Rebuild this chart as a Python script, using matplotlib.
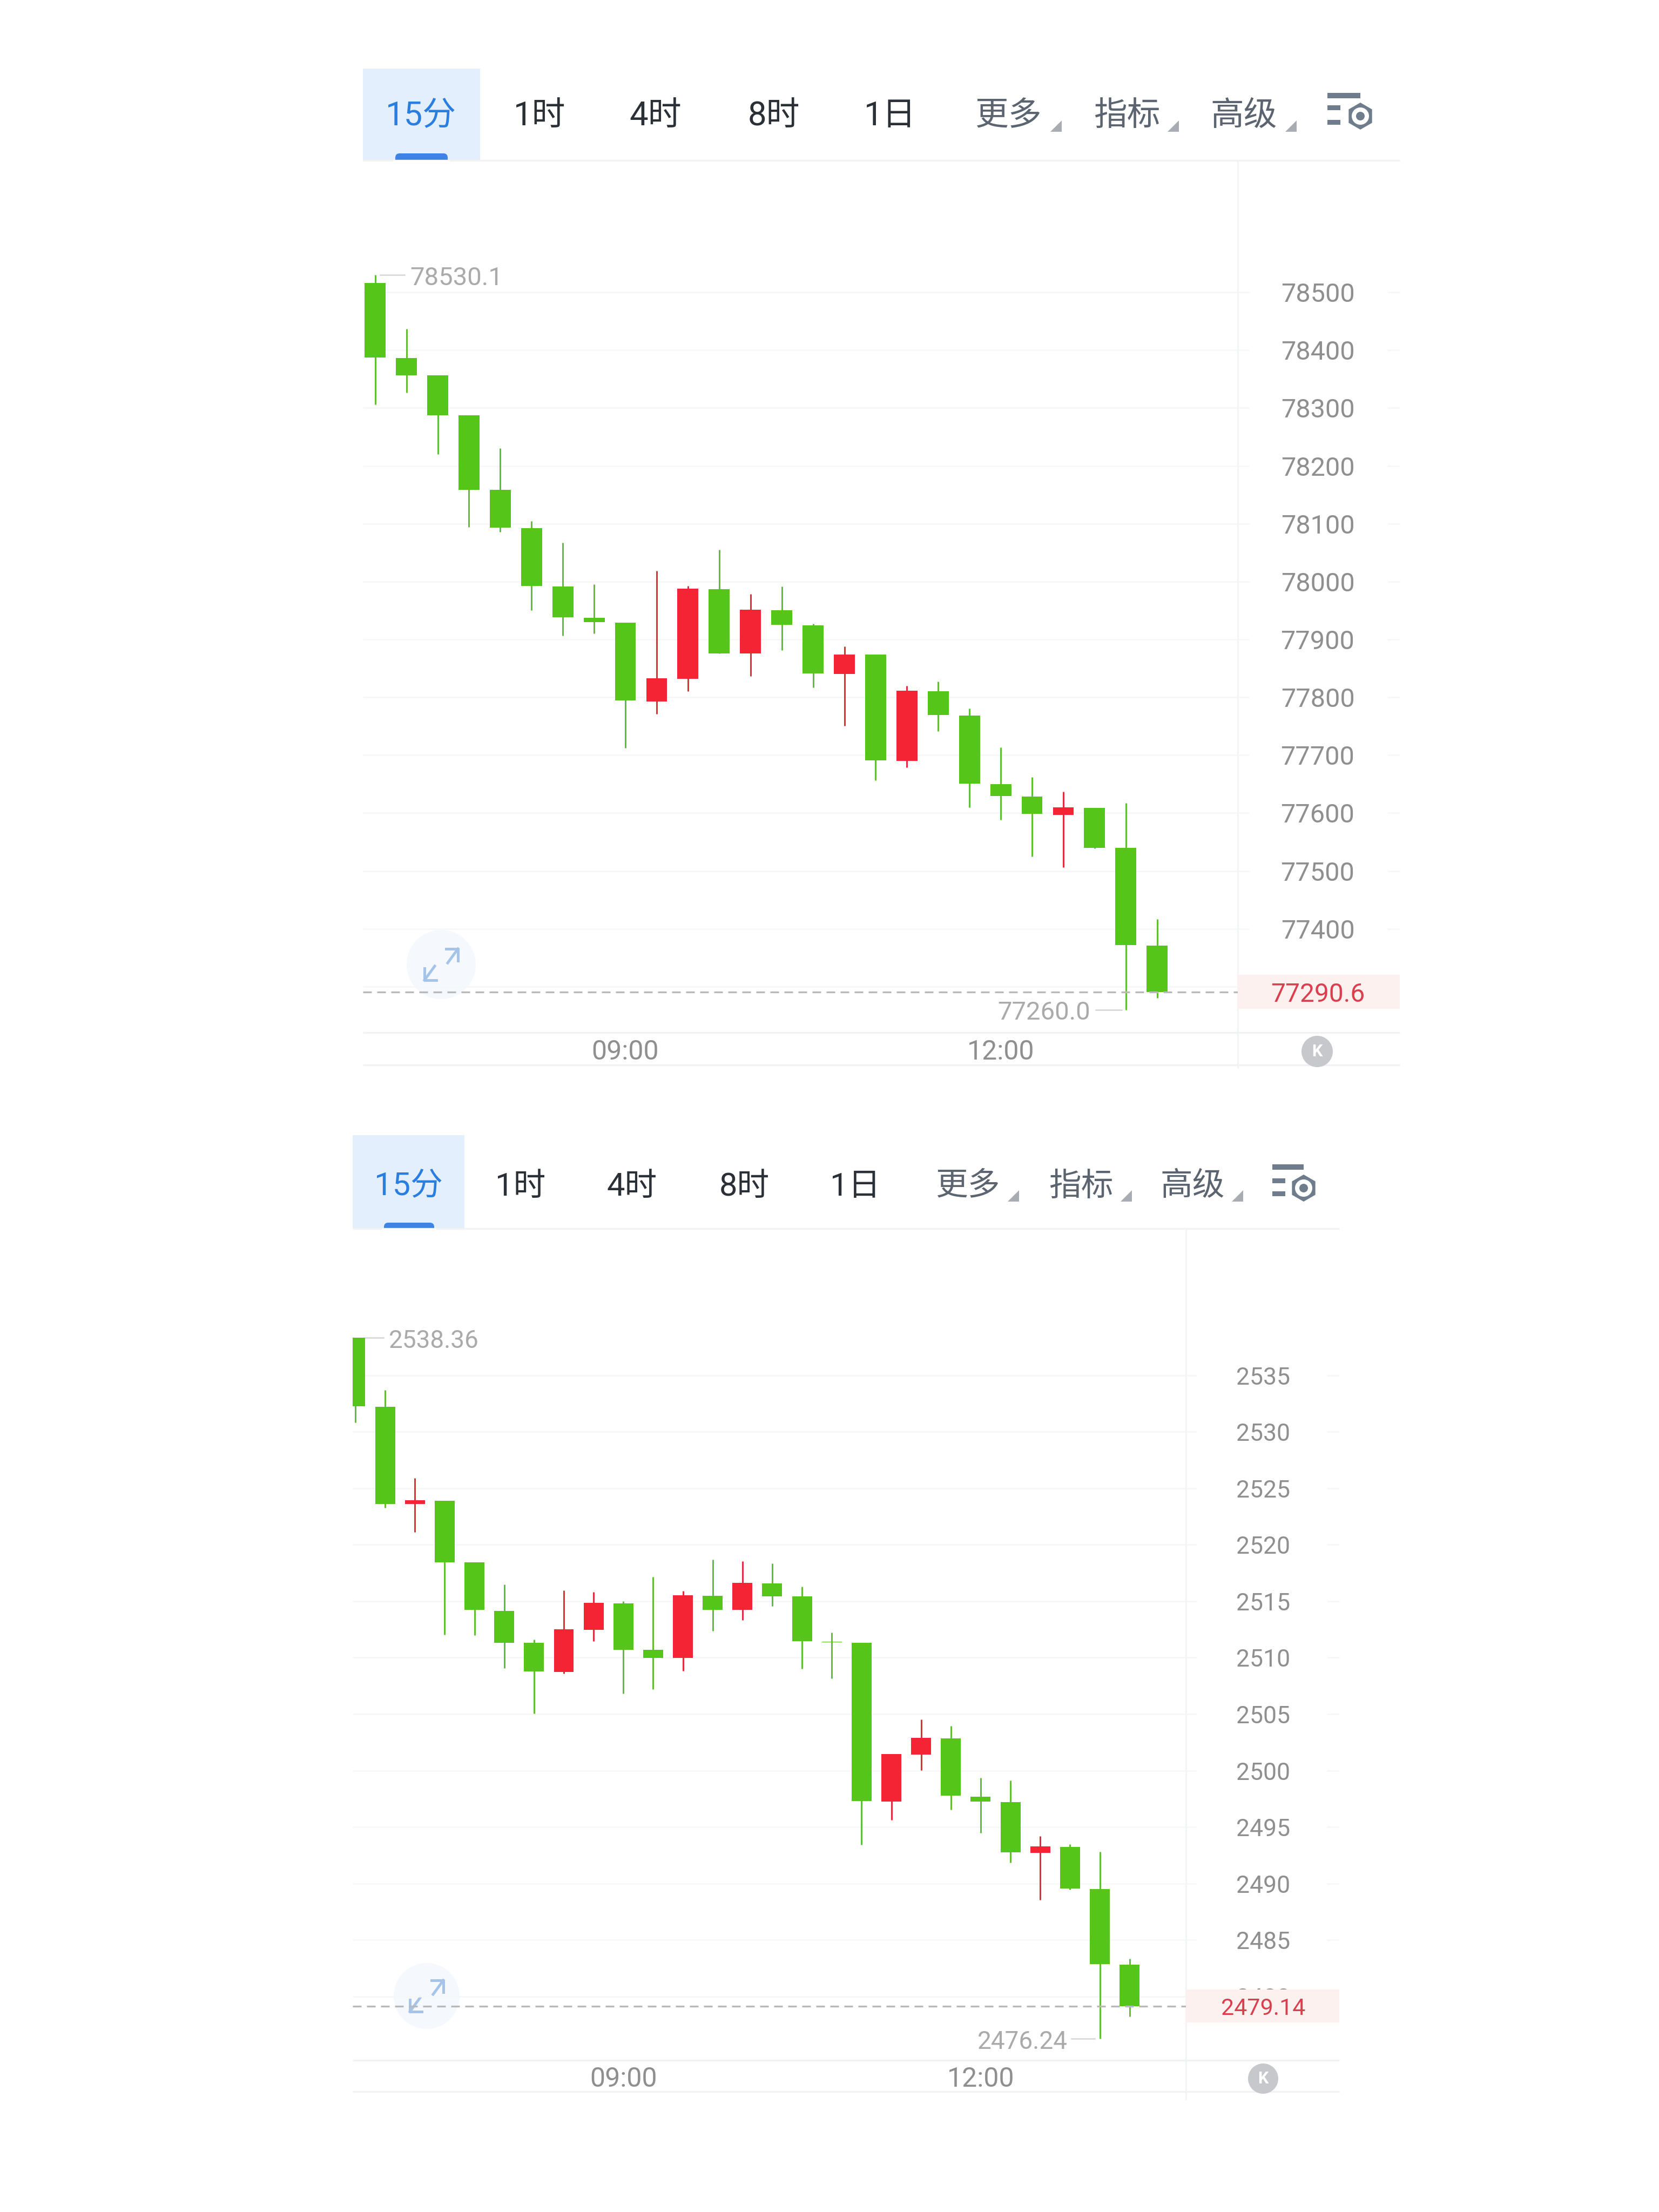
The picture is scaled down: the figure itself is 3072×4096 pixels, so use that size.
# two 15 minute candlestick screenshots, stacked on one page

import matplotlib
matplotlib.use('Agg')
import matplotlib.pyplot as plt
from matplotlib.patches import Circle, FancyBboxPatch, Polygon, Rectangle, RegularPolygon

FONT = ['Roboto', 'Noto Sans CJK SC', 'DejaVu Sans']
plt.rcParams['font.family'] = FONT

# first chart
btc_open = [78515.7, 78386.7, 78356.7, 78287.1, 78158.6, 78092.4, 77991.9, 77937.1, 77928.6, 77793, 77832, 77987, 77876,
            77950, 77924, 77840, 77874, 77690, 77810, 77768, 77650, 77628, 77597, 77609, 77540, 77371]
btc_close = [78387.1, 78356.7, 78287.6, 78159, 78092.8, 77992.4, 77938.1, 77929.5, 77795, 77833, 77988, 77876, 77951,
             77925, 77841, 77874, 77691, 77811, 77769, 77651, 77629, 77599, 77610, 77540, 77372, 77290.6]
btc_high = [78530.1, 78436.7, 78356.7, 78287.1, 78230.5, 78104.8, 78066.7, 77995.2, 77928.6, 78019, 77992, 78055, 77978,
            77991.7, 77927, 77888, 77874, 77820, 77827, 77781, 77713, 77662, 77637, 77609, 77617, 77417]
btc_low = [78305.7, 78326.7, 78220, 78093.8, 78085.7, 77950.5, 77906.7, 77910.5, 77712, 77771, 77810, 77876, 77837,
           77881, 77817, 77751, 77656, 77679, 77741, 77610, 77588, 77525, 77506, 77539, 77260.0, 77280]
btc_ticks = [78500, 78400, 78300, 78200, 78100, 78000, 77900, 77800, 77700, 77600, 77500, 77400, 77300]
btc_hidden = [77300]  # this label sits fully behind the price tag

# second chart
eth_open = [2538.36, 2532.2, 2523.6, 2523.88, 2518.42, 2514.16, 2511.3, 2508.72, 2512.48, 2514.82, 2510.67, 2509.96, 2515.48,
            2514.21, 2516.58, 2515.41, 2511.42, 2511.32, 2497.23, 2501.41, 2502.84, 2497.7, 2497.21, 2492.7, 2493.25, 2489.52, 2482.82]
eth_close = [2532.25, 2523.63, 2523.93, 2518.44, 2514.21, 2511.33, 2508.78, 2512.51, 2514.87, 2510.7, 2509.99, 2515.5, 2514.24,
             2516.6, 2515.45, 2511.46, 2511.34, 2497.29, 2501.46, 2502.89, 2497.76, 2497.26, 2492.76, 2493.28, 2489.57, 2482.87, 2479.14]
eth_high = [2538.36, 2533.71, 2525.88, 2523.88, 2518.42, 2516.49, 2511.61, 2515.94, 2515.8, 2514.98, 2517.15, 2515.89, 2518.69,
            2518.53, 2518.33, 2516.3, 2512.23, 2511.32, 2501.46, 2504.51, 2503.96, 2499.35, 2499.1, 2494.19, 2493.45, 2492.79, 2483.31]
eth_low = [2530.85, 2523.25, 2521.13, 2512.05, 2511.99, 2509.08, 2505.04, 2508.59, 2511.47, 2506.8, 2507.21, 2508.81, 2512.35,
           2513.31, 2514.57, 2509.02, 2508.14, 2493.42, 2495.62, 2500.01, 2496.52, 2494.46, 2491.85, 2488.53, 2489.47, 2476.24, 2478.2]
eth_ticks = [2535, 2530, 2525, 2520, 2515, 2510, 2505, 2500, 2495, 2490, 2485, 2480]

tab_labels = ['15分', '1时', '4时', '8时', '1日', '更多', '指标', '高级']

GREEN = '#55c51a'
RED = '#f52434'
GREEN_W = '#62bd3a'
RED_W = '#e0303f'
GRID = '#f5f7f7'
EDGE = '#f1f2f4'
LABEL = '#8f8f8f'
SOFT = '#aaaaaa'

W, H = 3072, 4096
fig = plt.figure(figsize=(W / 100, H / 100), dpi=100, facecolor='white')

# pixel layer for the app chrome round the charts
bg = fig.add_axes([0, 0, 1, 1], zorder=0)
bg.set_xlim(0, W)
bg.set_ylim(H, 0)
bg.axis('off')


def toolbar(p):
    x0, x1 = p['left'], p['right']
    bg.add_patch(Rectangle((x0, p['tab_top']), p['tab_right'] - x0, p['line_top'] - p['tab_top'], color='#e3effc', lw=0))
    a, b, t = p['ind']
    bg.add_patch(FancyBboxPatch((a + 8, t + 8), b - a - 16, p['line_top'] - t, boxstyle='round,pad=8', color='#3f83e4', lw=0, clip_on=True))
    bg.add_patch(Rectangle((a - 4, p['line_top']), b - a + 8, 30, color='white', lw=0, zorder=3))
    for i, lab in enumerate(tab_labels):
        col = '#2a7ee0' if i == 0 else ('#2b2f36' if i < 5 else '#5c6470')
        bg.text(p['tab_x'][i], p['tab_y'], lab, color=col, fontsize=p['tab_fs'], ha='center', va='center')
    for tx in p['tri']:
        yb = p['tri_y']
        bg.add_patch(Polygon([(tx + 21, yb - 21), (tx + 21, yb), (tx, yb)], color='#a9adb3', lw=0))
    # settings icon
    ix, top, right, mids, hx, hy = p['icon']
    bg.add_patch(Rectangle((ix, top), right - ix, 10, color='#6e7c8c', lw=0))
    for m in mids:
        bg.add_patch(Rectangle((ix, m), 24, 9, color='#6e7c8c', lw=0))
    bg.add_patch(RegularPolygon((hx, hy), 6, radius=25, color='#6e7c8c', lw=0))
    bg.add_patch(Circle((hx, hy), 16, color='white', lw=0))
    bg.add_patch(Circle((hx, hy), 8, color='#6e7c8c', lw=0))


def frame(p):
    x0, x1 = p['left'], p['right']
    for yy in (p['line_top'], p['line_bot'], p['line_foot']):
        bg.plot([x0, x1], [yy, yy], color=EDGE, lw=2.4, solid_capstyle='butt')
    bg.plot([p['axis'], p['axis']], [p['line_top'], p['axis_end']], color=EDGE, lw=1.8)
    # expand button
    cx, cy, r = p['exp']
    bg.add_patch(Circle((cx, cy), r, color='#f5f9fe', lw=0))
    for s in (1, -1):
        bg.plot([cx + s * 31, cx + s * 12], [cy - s * 29, cy - s * 3], color='#a6c4ea', lw=3.6)
        bg.plot([cx + s * 9, cx + s * 31, cx + s * 31], [cy - s * 29, cy - s * 29, cy - s * 7], color='#a6c4ea', lw=3.6)
    # jump to latest button
    cx, cy, r = p['k']
    bg.add_patch(Circle((cx, cy), r, color='#c6c8cb', lw=0, zorder=4))
    bg.text(cx, cy, 'K', color='white', fontsize=22, fontweight='bold', ha='center', va='center', zorder=5)


def chart(p, o, c, h, l, ticks, hidden, tick_fmt):
    x0, x1 = p['left'], p['axis']
    t, b = p['line_top'], p['line_bot']
    ax = fig.add_axes([x0 / W, 1 - b / H, (x1 - x0) / W, (b - t) / H], zorder=1)
    ax.patch.set_alpha(0)
    ax.axis('off')
    first, step = p['first'], p['step']
    ax.set_xlim((x0 - first) / step, (x1 - first) / step)
    y_ref, y_val, ppu = p['y_ref']
    ax.set_ylim(y_val - (b - y_ref) / ppu, y_val + (y_ref - t) / ppu)

    idx = list(range(len(o)))
    colors = [RED if c[i] > o[i] else GREEN for i in idx]
    wicks = [RED_W if c[i] > o[i] else GREEN_W for i in idx]
    ax.vlines(idx, l, h, colors=wicks, lw=2.2, zorder=3)
    ax.bar(idx, [abs(c[i] - o[i]) for i in idx], bottom=[min(c[i], o[i]) for i in idx], width=0.67, color=colors, lw=0, zorder=4)

    tr = ax.get_yaxis_transform()
    span = x1 - x0
    frac = lambda px: (px - x0) / span
    shift = 5 / ppu  # text sits a little low in the app
    ax.hlines(ticks, 0, frac(p['grid_end']), transform=tr, color=GRID, lw=1.8, clip_on=False, zorder=1)
    ax.hlines(ticks, frac(p['right'] - 23), frac(p['right']), transform=tr, color=GRID, lw=1.8, clip_on=False, zorder=1)
    for v in ticks:
        if v in hidden:
            continue
        ax.text(frac(p['lab_x']), v - shift, tick_fmt % v, transform=tr, color=LABEL, fontsize=p['tick_fs'], ha='center', va='center', zorder=2, clip_on=False)

    # last price line and tag
    last = c[-1]
    ax.axhline(last, color='#b9b9b9', lw=2.4, ls=(0, (4.8, 3.0)), zorder=5)
    hb = p['box_h'] / ppu
    ax.add_patch(Rectangle((1, last - hb), frac(p['right']) - 1, 2 * hb, transform=tr, color='#fdf1ef', lw=0, clip_on=False, zorder=6))
    ax.text(frac(p['lab_x']), last - shift, p['last_txt'], transform=tr, color='#d9404f', fontsize=p['last_fs'], ha='center', va='center', zorder=7, clip_on=False)

    # time labels
    for i, lab in zip(p['time_idx'], ['09:00', '12:00']):
        ax.annotate(lab, xy=(i, 0), xycoords=ax.get_xaxis_transform(), xytext=(0, b - p['time_y']), textcoords='offset pixels',
                    color=LABEL, fontsize=p['time_fs'], ha='center', va='center', annotation_clip=False)

    # highest and lowest marks
    hi = h.index(max(h))
    lo = l.index(min(l))
    ax.annotate(p['hi_txt'], xy=(hi, h[hi]), xytext=p['hi_off'], textcoords='offset pixels', color=SOFT, fontsize=p['note_fs'], ha='left', va='center', annotation_clip=False)
    ax.annotate(p['lo_txt'], xy=(lo, l[lo]), xytext=p['lo_off'], textcoords='offset pixels', color=SOFT, fontsize=p['note_fs'], ha='right', va='center', annotation_clip=False)
    a, z = p['hi_tick']
    ax.plot([(a - first) / step, (z - first) / step], [h[hi], h[hi]], color='#d5d5d5', lw=1.8, clip_on=False, zorder=2)
    a, z = p['lo_tick']
    ax.plot([(a - first) / step, (z - first) / step], [l[lo], l[lo]], color='#d5d5d5', lw=1.8, clip_on=False, zorder=2)


top = dict(left=672, right=2592, axis=2292, tab_right=889, tab_top=127, line_top=297, line_bot=1912, line_foot=1972, axis_end=1977,
           ind=(732, 829, 284), tab_x=[779, 999, 1214, 1433, 1648, 1867, 2087, 2303], tab_y=215, tab_fs=44.5,
           tri=[1945, 2162, 2380], tri_y=244, icon=(2458, 172, 2519, [195, 222], 2519, 215),
           exp=(817, 1786, 64), k=(2439, 1947, 29), first=694.7, step=57.92, y_ref=(541.2, 78500, 1.0714),
           grid_end=2313, lab_x=2440, tick_fs=35, box_h=31.5, last_txt='77290.6', last_fs=34.5,
           time_idx=[8, 20], time_y=1948, time_fs=36, hi_txt='78530.1', lo_txt='77260.0', note_fs=34,
           hi_off=(65, -6), lo_off=(-66, -5), hi_tick=(704, 749), lo_tick=(2029, 2077))

bottom = dict(left=653, right=2480, axis=2196, tab_right=860, tab_top=2102, line_top=2275, line_bot=3815, line_foot=3873, axis_end=3887,
              ind=(711, 804, 2264), tab_x=[756, 964, 1170, 1378, 1584, 1792, 2002, 2208], tab_y=2197, tab_fs=43,
              tri=[1866, 2075, 2281], tri_y=2225, icon=(2356, 2156, 2414, [2182, 2206], 2414, 2200),
              exp=(790, 3696, 61), k=(2339, 3849, 28), first=658, step=55.14, y_ref=(2546.8, 2535, 20.907),
              grid_end=2216, lab_x=2339, tick_fs=32, box_h=30.5, last_txt='2479.14', last_fs=31,
              time_idx=[9, 21], time_y=3850, time_fs=36, hi_txt='2538.36', lo_txt='2476.24', note_fs=33,
              hi_off=(62, -6), lo_off=(-60, -6), hi_tick=(676, 710), lo_tick=(1984, 2027))

toolbar(top)
frame(top)
chart(top, btc_open, btc_close, btc_high, btc_low, btc_ticks, btc_hidden, '%d')

toolbar(bottom)
frame(bottom)
chart(bottom, eth_open, eth_close, eth_high, eth_low, eth_ticks, [], '%d')

fig.savefig('out.png', dpi=100, facecolor='white')
